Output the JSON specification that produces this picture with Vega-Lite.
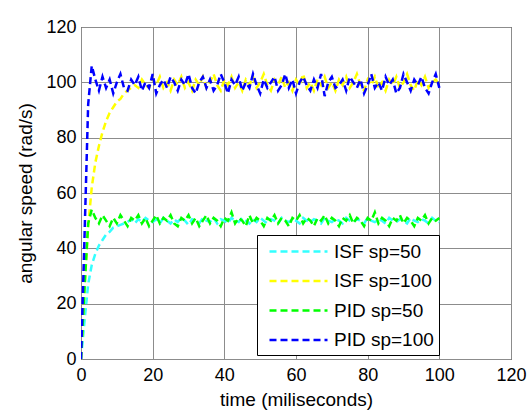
{
  "$schema": "https://vega.github.io/schema/vega-lite/v6.json",
  "width": 430,
  "height": 332,
  "autosize": {"type": "none"},
  "padding": {"left": 81, "top": 27, "right": 18, "bottom": 54},
  "background": "white",
  "config": {
    "font": "Liberation Sans",
    "view": {"stroke": "black", "strokeWidth": 1},
    "axis": {
      "gridColor": "#8c8c8c",
      "gridOpacity": 1,
      "gridWidth": 1,
      "domain": false,
      "ticks": false,
      "labelColor": "black",
      "titleColor": "black",
      "labelFont": "Liberation Sans",
      "titleFont": "Liberation Sans",
      "labelFontSize": 18,
      "titleFontSize": 19,
      "titleFontWeight": "normal"
    }
  },
  "data": {
    "values": [
      {"t": 0, "ISF sp=50": 0, "ISF sp=100": 0, "PID sp=50": 0, "PID sp=100": 0},
      {"t": 1, "ISF sp=50": 14, "ISF sp=100": 26, "PID sp=50": 26, "PID sp=100": 45},
      {"t": 2, "ISF sp=50": 27, "ISF sp=100": 48, "PID sp=50": 49, "PID sp=100": 92},
      {"t": 3, "ISF sp=50": 34, "ISF sp=100": 62, "PID sp=50": 54, "PID sp=100": 106},
      {"t": 4, "ISF sp=50": 38, "ISF sp=100": 71, "PID sp=50": 51, "PID sp=100": 101},
      {"t": 5, "ISF sp=50": 41, "ISF sp=100": 77, "PID sp=50": 49, "PID sp=100": 97},
      {"t": 6, "ISF sp=50": 43, "ISF sp=100": 82, "PID sp=50": 52, "PID sp=100": 102},
      {"t": 7, "ISF sp=50": 45, "ISF sp=100": 86, "PID sp=50": 50, "PID sp=100": 98},
      {"t": 8, "ISF sp=50": 46, "ISF sp=100": 89, "PID sp=50": 48, "PID sp=100": 101},
      {"t": 9, "ISF sp=50": 47.5, "ISF sp=100": 91, "PID sp=50": 51, "PID sp=100": 96},
      {"t": 10, "ISF sp=50": 48, "ISF sp=100": 93, "PID sp=50": 49, "PID sp=100": 100},
      {"t": 11, "ISF sp=50": 48.5, "ISF sp=100": 94, "PID sp=50": 52, "PID sp=100": 103},
      {"t": 12, "ISF sp=50": 49, "ISF sp=100": 96, "PID sp=50": 50, "PID sp=100": 98},
      {"t": 13, "ISF sp=50": 49.5, "ISF sp=100": 97, "PID sp=50": 48, "PID sp=100": 97},
      {"t": 14, "ISF sp=50": 50.5, "ISF sp=100": 98, "PID sp=50": 51, "PID sp=100": 101},
      {"t": 15, "ISF sp=50": 49, "ISF sp=100": 99, "PID sp=50": 50, "PID sp=100": 99},
      {"t": 16, "ISF sp=50": 50.5, "ISF sp=100": 98, "PID sp=50": 52, "PID sp=100": 102},
      {"t": 17, "ISF sp=50": 49.5, "ISF sp=100": 101, "PID sp=50": 49, "PID sp=100": 97},
      {"t": 18, "ISF sp=50": 51, "ISF sp=100": 99, "PID sp=50": 51, "PID sp=100": 100},
      {"t": 19, "ISF sp=50": 50, "ISF sp=100": 98, "PID sp=50": 48, "PID sp=100": 98},
      {"t": 20, "ISF sp=50": 49.5, "ISF sp=100": 101, "PID sp=50": 50, "PID sp=100": 103},
      {"t": 21, "ISF sp=50": 50.5, "ISF sp=100": 99, "PID sp=50": 52, "PID sp=100": 96},
      {"t": 22, "ISF sp=50": 49, "ISF sp=100": 102, "PID sp=50": 49, "PID sp=100": 99},
      {"t": 23, "ISF sp=50": 51, "ISF sp=100": 98, "PID sp=50": 51, "PID sp=100": 101},
      {"t": 24, "ISF sp=50": 50, "ISF sp=100": 100, "PID sp=50": 50, "PID sp=100": 98},
      {"t": 25, "ISF sp=50": 49, "ISF sp=100": 97, "PID sp=50": 52, "PID sp=100": 102},
      {"t": 26, "ISF sp=50": 50.5, "ISF sp=100": 101, "PID sp=50": 49, "PID sp=100": 100},
      {"t": 27, "ISF sp=50": 49.5, "ISF sp=100": 99, "PID sp=50": 48, "PID sp=100": 97},
      {"t": 28, "ISF sp=50": 51, "ISF sp=100": 102, "PID sp=50": 51, "PID sp=100": 101},
      {"t": 29, "ISF sp=50": 50, "ISF sp=100": 98, "PID sp=50": 50, "PID sp=100": 99},
      {"t": 30, "ISF sp=50": 48.5, "ISF sp=100": 100, "PID sp=50": 52, "PID sp=100": 103},
      {"t": 31, "ISF sp=50": 50.5, "ISF sp=100": 97, "PID sp=50": 49, "PID sp=100": 98},
      {"t": 32, "ISF sp=50": 50, "ISF sp=100": 101, "PID sp=50": 51, "PID sp=100": 96},
      {"t": 33, "ISF sp=50": 49, "ISF sp=100": 99, "PID sp=50": 48, "PID sp=100": 100},
      {"t": 34, "ISF sp=50": 51, "ISF sp=100": 102, "PID sp=50": 50, "PID sp=100": 102},
      {"t": 35, "ISF sp=50": 50, "ISF sp=100": 98, "PID sp=50": 52, "PID sp=100": 98},
      {"t": 36, "ISF sp=50": 49.5, "ISF sp=100": 100, "PID sp=50": 49, "PID sp=100": 101},
      {"t": 37, "ISF sp=50": 51, "ISF sp=100": 103, "PID sp=50": 51, "PID sp=100": 97},
      {"t": 38, "ISF sp=50": 49, "ISF sp=100": 99, "PID sp=50": 50, "PID sp=100": 99},
      {"t": 39, "ISF sp=50": 50.5, "ISF sp=100": 97, "PID sp=50": 48, "PID sp=100": 103},
      {"t": 40, "ISF sp=50": 50, "ISF sp=100": 101, "PID sp=50": 51, "PID sp=100": 100},
      {"t": 41, "ISF sp=50": 49, "ISF sp=100": 99, "PID sp=50": 50, "PID sp=100": 96},
      {"t": 42, "ISF sp=50": 51, "ISF sp=100": 102, "PID sp=50": 53, "PID sp=100": 101},
      {"t": 43, "ISF sp=50": 50, "ISF sp=100": 98, "PID sp=50": 49, "PID sp=100": 99},
      {"t": 44, "ISF sp=50": 49.5, "ISF sp=100": 100, "PID sp=50": 51, "PID sp=100": 102},
      {"t": 45, "ISF sp=50": 51, "ISF sp=100": 97, "PID sp=50": 50, "PID sp=100": 97},
      {"t": 46, "ISF sp=50": 50, "ISF sp=100": 101, "PID sp=50": 48, "PID sp=100": 100},
      {"t": 47, "ISF sp=50": 49, "ISF sp=100": 99, "PID sp=50": 52, "PID sp=100": 98},
      {"t": 48, "ISF sp=50": 50.5, "ISF sp=100": 102, "PID sp=50": 49, "PID sp=100": 103},
      {"t": 49, "ISF sp=50": 49.5, "ISF sp=100": 98, "PID sp=50": 51, "PID sp=100": 99},
      {"t": 50, "ISF sp=50": 51, "ISF sp=100": 100, "PID sp=50": 50, "PID sp=100": 96},
      {"t": 51, "ISF sp=50": 50, "ISF sp=100": 103, "PID sp=50": 48, "PID sp=100": 101},
      {"t": 52, "ISF sp=50": 49, "ISF sp=100": 99, "PID sp=50": 51, "PID sp=100": 98},
      {"t": 53, "ISF sp=50": 50.5, "ISF sp=100": 97, "PID sp=50": 50, "PID sp=100": 100},
      {"t": 54, "ISF sp=50": 50, "ISF sp=100": 101, "PID sp=50": 52, "PID sp=100": 102},
      {"t": 55, "ISF sp=50": 49, "ISF sp=100": 99, "PID sp=50": 49, "PID sp=100": 97},
      {"t": 56, "ISF sp=50": 51, "ISF sp=100": 102, "PID sp=50": 51, "PID sp=100": 99},
      {"t": 57, "ISF sp=50": 50, "ISF sp=100": 98, "PID sp=50": 50, "PID sp=100": 103},
      {"t": 58, "ISF sp=50": 49.5, "ISF sp=100": 100, "PID sp=50": 48, "PID sp=100": 98},
      {"t": 59, "ISF sp=50": 50.5, "ISF sp=100": 97, "PID sp=50": 51, "PID sp=100": 101},
      {"t": 60, "ISF sp=50": 50, "ISF sp=100": 101, "PID sp=50": 50, "PID sp=100": 96},
      {"t": 61, "ISF sp=50": 49, "ISF sp=100": 99, "PID sp=50": 52, "PID sp=100": 100},
      {"t": 62, "ISF sp=50": 51, "ISF sp=100": 103, "PID sp=50": 49, "PID sp=100": 102},
      {"t": 63, "ISF sp=50": 50, "ISF sp=100": 98, "PID sp=50": 51, "PID sp=100": 99},
      {"t": 64, "ISF sp=50": 49.5, "ISF sp=100": 100, "PID sp=50": 50, "PID sp=100": 97},
      {"t": 65, "ISF sp=50": 50.5, "ISF sp=100": 97, "PID sp=50": 48, "PID sp=100": 101},
      {"t": 66, "ISF sp=50": 50, "ISF sp=100": 101, "PID sp=50": 51, "PID sp=100": 98},
      {"t": 67, "ISF sp=50": 49, "ISF sp=100": 99, "PID sp=50": 50, "PID sp=100": 103},
      {"t": 68, "ISF sp=50": 51, "ISF sp=100": 102, "PID sp=50": 52, "PID sp=100": 95},
      {"t": 69, "ISF sp=50": 50, "ISF sp=100": 98, "PID sp=50": 49, "PID sp=100": 100},
      {"t": 70, "ISF sp=50": 49.5, "ISF sp=100": 100, "PID sp=50": 51, "PID sp=100": 102},
      {"t": 71, "ISF sp=50": 50.5, "ISF sp=100": 97, "PID sp=50": 50, "PID sp=100": 98},
      {"t": 72, "ISF sp=50": 50, "ISF sp=100": 101, "PID sp=50": 48, "PID sp=100": 99},
      {"t": 73, "ISF sp=50": 49, "ISF sp=100": 99, "PID sp=50": 51, "PID sp=100": 101},
      {"t": 74, "ISF sp=50": 51, "ISF sp=100": 102, "PID sp=50": 50, "PID sp=100": 97},
      {"t": 75, "ISF sp=50": 50, "ISF sp=100": 98, "PID sp=50": 52, "PID sp=100": 102},
      {"t": 76, "ISF sp=50": 49.5, "ISF sp=100": 100, "PID sp=50": 49, "PID sp=100": 100},
      {"t": 77, "ISF sp=50": 50.5, "ISF sp=100": 103, "PID sp=50": 51, "PID sp=100": 98},
      {"t": 78, "ISF sp=50": 50, "ISF sp=100": 99, "PID sp=50": 50, "PID sp=100": 101},
      {"t": 79, "ISF sp=50": 49, "ISF sp=100": 97, "PID sp=50": 48, "PID sp=100": 96},
      {"t": 80, "ISF sp=50": 51, "ISF sp=100": 101, "PID sp=50": 51, "PID sp=100": 99},
      {"t": 81, "ISF sp=50": 50, "ISF sp=100": 99, "PID sp=50": 50, "PID sp=100": 103},
      {"t": 82, "ISF sp=50": 49.5, "ISF sp=100": 102, "PID sp=50": 53, "PID sp=100": 98},
      {"t": 83, "ISF sp=50": 50.5, "ISF sp=100": 98, "PID sp=50": 49, "PID sp=100": 100},
      {"t": 84, "ISF sp=50": 50, "ISF sp=100": 100, "PID sp=50": 51, "PID sp=100": 97},
      {"t": 85, "ISF sp=50": 49, "ISF sp=100": 97, "PID sp=50": 50, "PID sp=100": 102},
      {"t": 86, "ISF sp=50": 51, "ISF sp=100": 101, "PID sp=50": 48, "PID sp=100": 99},
      {"t": 87, "ISF sp=50": 50, "ISF sp=100": 99, "PID sp=50": 51, "PID sp=100": 101},
      {"t": 88, "ISF sp=50": 49.5, "ISF sp=100": 102, "PID sp=50": 50, "PID sp=100": 96},
      {"t": 89, "ISF sp=50": 50.5, "ISF sp=100": 98, "PID sp=50": 52, "PID sp=100": 98},
      {"t": 90, "ISF sp=50": 50, "ISF sp=100": 100, "PID sp=50": 49, "PID sp=100": 103},
      {"t": 91, "ISF sp=50": 49, "ISF sp=100": 103, "PID sp=50": 51, "PID sp=100": 100},
      {"t": 92, "ISF sp=50": 51, "ISF sp=100": 99, "PID sp=50": 50, "PID sp=100": 97},
      {"t": 93, "ISF sp=50": 50, "ISF sp=100": 97, "PID sp=50": 48, "PID sp=100": 101},
      {"t": 94, "ISF sp=50": 49.5, "ISF sp=100": 101, "PID sp=50": 51, "PID sp=100": 99},
      {"t": 95, "ISF sp=50": 50.5, "ISF sp=100": 99, "PID sp=50": 50, "PID sp=100": 102},
      {"t": 96, "ISF sp=50": 50, "ISF sp=100": 102, "PID sp=50": 52, "PID sp=100": 98},
      {"t": 97, "ISF sp=50": 49, "ISF sp=100": 98, "PID sp=50": 49, "PID sp=100": 96},
      {"t": 98, "ISF sp=50": 51, "ISF sp=100": 100, "PID sp=50": 51, "PID sp=100": 100},
      {"t": 99, "ISF sp=50": 50, "ISF sp=100": 101, "PID sp=50": 50, "PID sp=100": 103},
      {"t": 100, "ISF sp=50": 49.5, "ISF sp=100": 99, "PID sp=50": 51, "PID sp=100": 98}
    ]
  },
  "transform": [
    {"fold": ["ISF sp=50", "ISF sp=100", "PID sp=50", "PID sp=100"], "as": ["series", "speed"]}
  ],
  "mark": {"type": "line", "strokeWidth": 2.5, "strokeDash": [7, 4], "clip": true},
  "encoding": {
    "x": {
      "field": "t",
      "type": "quantitative",
      "scale": {"domain": [0, 120], "nice": false},
      "axis": {
        "values": [0, 20, 40, 60, 80, 100, 120],
        "title": "time (miliseconds)",
        "labelPadding": 7,
        "titlePadding": 6,
        "labelFlush": false
      }
    },
    "y": {
      "field": "speed",
      "type": "quantitative",
      "scale": {"domain": [0, 120], "nice": false},
      "axis": {
        "values": [0, 20, 40, 60, 80, 100, 120],
        "title": "angular speed (rad/s)",
        "labelPadding": 5,
        "titlePadding": 10,
        "labelFlush": false
      }
    },
    "color": {
      "field": "series",
      "type": "nominal",
      "sort": ["ISF sp=50", "ISF sp=100", "PID sp=50", "PID sp=100"],
      "scale": {
        "domain": ["ISF sp=50", "ISF sp=100", "PID sp=50", "PID sp=100"],
        "range": ["#33ffff", "#ffff00", "#00ff00", "#0000ff"]
      },
      "legend": {
        "orient": "none",
        "legendX": 176,
        "legendY": 208,
        "title": null,
        "symbolType": "M-2.9,0H2.9",
        "symbolSize": 400,
        "symbolStrokeWidth": 2.5,
        "symbolDash": [7, 4],
        "symbolOffset": 25,
        "labelFontSize": 19,
        "labelFont": "Liberation Sans",
        "labelColor": "black",
        "labelOffset": 24,
        "padding": 5,
        "strokeColor": "black",
        "fillColor": "white",
        "cornerRadius": 0,
        "rowPadding": 7.5
      }
    }
  }
}
